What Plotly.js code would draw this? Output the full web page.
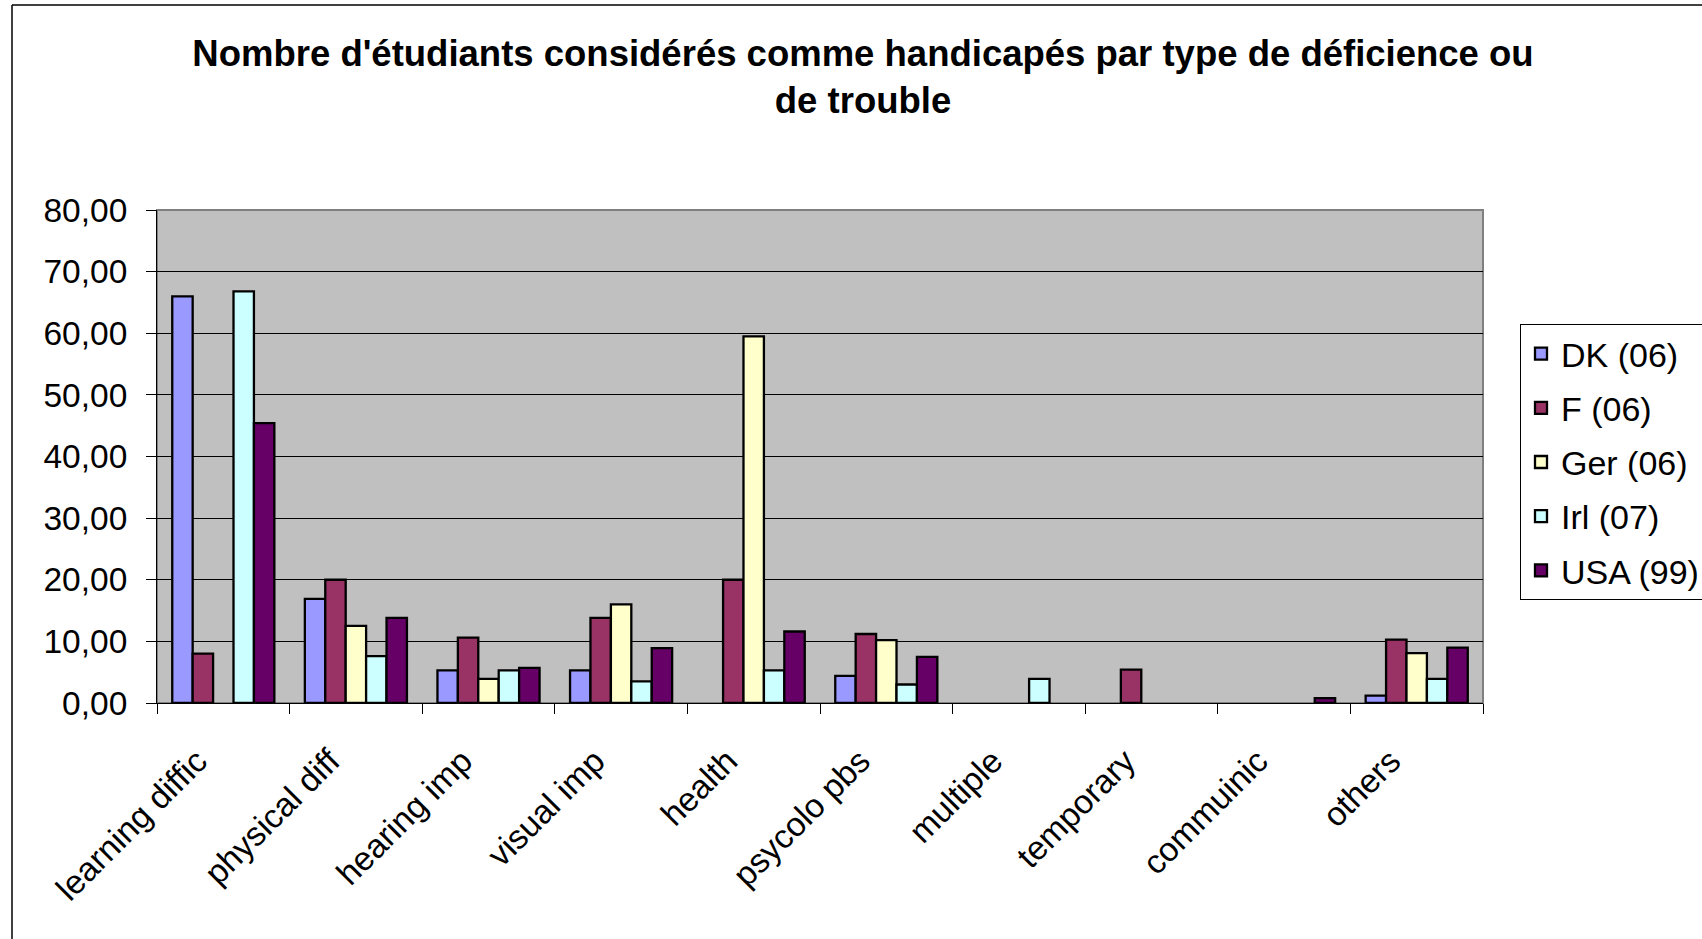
<!DOCTYPE html>
<html>
<head>
<meta charset="utf-8">
<script src="https://cdn.plot.ly/plotly-3.0.1.min.js"></script>
<style>
  html, body { margin: 0; padding: 0; background: #ffffff; }
  #chart { width: 1702px; height: 939px; }
</style>
</head>
<body>
<div id="chart"></div>
<script>
// ---- data ----
const categories = ["learning diffic", "physical diff", "hearing imp", "visual imp", "health",
                    "psycolo pbs", "multiple", "temporary", "commuinic", "others"];
const seriesNames = ["DK (06)", "F (06)", "Ger (06)", "Irl (07)", "USA (99)"];
const dk  = [66.0, 16.9, 5.3, 5.3, null, 4.4, null, null, null, 1.2];
const fr  = [8.0, 20.0, 10.6, 13.8, 20.0, 11.2, null, 5.4, null, 10.3];
const ger = [null, 12.5, 3.9, 16.0, 59.5, 10.2, null, null, null, 8.1];
const irl = [66.8, 7.6, 5.3, 3.5, 5.3, 3.0, 3.9, null, null, 3.9];
const usa = [45.4, 13.8, 5.7, 8.9, 11.6, 7.5, null, null, 0.8, 9.0];
const yTickValues = [0, 10, 20, 30, 40, 50, 60, 70, 80];

const seriesValues = [dk, fr, ger, irl, usa];
const seriesColors = ["#9999FF", "#993366", "#FFFFCC", "#CCFFFF", "#660066"];

// ---- layout geometry (pixels in the 1702x939 page) ----
const W = 1702, H = 939;
const plotL = 157, plotR = 1483, plotT = 210, plotB = 703;
const pxX = x => (x - plotL) / (plotR - plotL);
const pxY = y => (plotB - y) / (plotB - plotT);

const FONT = "Liberation Sans, Arial, sans-serif";

const traces = seriesNames.map((name, i) => ({
  type: "bar",
  name: name,
  x: categories,
  y: seriesValues[i],
  legendgroup: "g" + i,
  marker: { color: seriesColors[i], line: { color: "#000000", width: 2.3 } },
  hoverinfo: "x+y+name"
}));

const layout = {
  width: W, height: H,
  margin: { l: plotL, r: W - plotR, t: plotT, b: H - plotB, pad: 0, autoexpand: false },
  paper_bgcolor: "#ffffff",
  plot_bgcolor: "#C0C0C0",
  separators: ", ",
  font: { family: FONT, size: 33, color: "#000000" },
  barmode: "group",
  bargap: 0.23,
  bargroupgap: 0,
  title: {
    text: "Nombre d'étudiants considérés comme handicapés par type de déficience ou<br>de trouble",
    font: { family: FONT, size: 36.5, color: "#000000", weight: "bold" },
    x: 863 / W, xref: "container", xanchor: "center",
    y: 1 - 66 / H, yref: "container", yanchor: "top"
  },
  xaxis: {
    type: "category",
    tickson: "boundaries",
    ticks: "outside", ticklen: 10, tickcolor: "#000000", tickwidth: 1,
    tickangle: -45,
    ticklabelstandoff: 24,
    ticklabelshift: -26,
    tickfont: { family: FONT, size: 33.5, color: "#000000" },
    showline: true, linecolor: "#000000", linewidth: 1,
    showgrid: false, zeroline: false,
    fixedrange: true
  },
  yaxis: {
    range: [0, 80],
    tickvals: yTickValues,
    tickformat: ".2f",
    ticks: "outside", ticklen: 10, tickcolor: "#000000", tickwidth: 1,
    ticklabelstandoff: 12,
    tickfont: { family: FONT, size: 33.5, color: "#000000" },
    showline: true, linecolor: "#000000", linewidth: 1,
    showgrid: true, gridcolor: "#000000", gridwidth: 1,
    zeroline: false,
    fixedrange: true
  },
  legend: {
    x: pxX(1520), xanchor: "left",
    y: pxY(324), yanchor: "top",
    bgcolor: "#ffffff",
    bordercolor: "#000000", borderwidth: 1,
    font: { family: FONT, size: 34, color: "#000000" },
    traceorder: "grouped",
    tracegroupgap: 7
  },
  shapes: [
    // plot-area border (grey)
    { type: "rect", xref: "paper", yref: "paper", x0: 0, x1: 1, y0: 0, y1: 1,
      line: { color: "#808080", width: 2 }, layer: "below" },
    // outer chart frame: left and top edges
    { type: "line", xref: "paper", yref: "paper",
      x0: pxX(12), x1: pxX(12), y0: pxY(5), y1: pxY(H + 5),
      line: { color: "#000000", width: 1.5 } },
    { type: "line", xref: "paper", yref: "paper",
      x0: pxX(12), x1: pxX(W + 5), y0: pxY(5), y1: pxY(5),
      line: { color: "#000000", width: 1.5 } }
  ],
  showlegend: true
};

Plotly.newPlot("chart", traces, layout, { displayModeBar: false });
</script>
</body>
</html>
